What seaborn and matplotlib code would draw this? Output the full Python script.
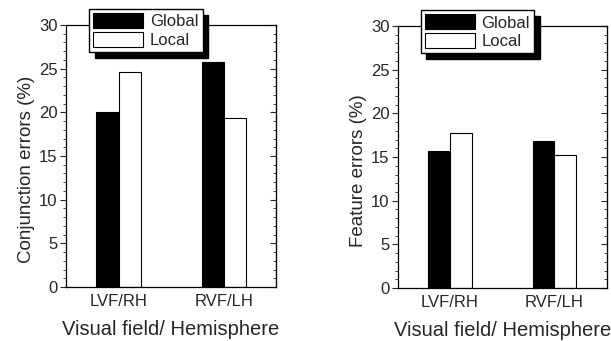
import pandas as pd
import matplotlib.pyplot as plt
import seaborn as sns
from matplotlib.ticker import MultipleLocator

# data
fields = ['LVF/RH', 'RVF/LH']
groups = ['Global', 'Local']
conj_global = [20.0, 25.8]
conj_local = [24.6, 19.4]
feat_global = [15.7, 16.8]
feat_local = [17.8, 15.2]

sns.set_style('white')
plt.rcParams['font.family'] = ['Liberation Sans', 'DejaVu Sans']


def make_df(glob, loc):
    return pd.DataFrame({
        'field': fields * 2,
        'group': ['Global'] * 2 + ['Local'] * 2,
        'value': glob + loc,
    })


fig = plt.figure(figsize=(6.11, 3.41), dpi=100)
ax1 = fig.add_axes([0.108, 0.158, 0.344, 0.769])
ax2 = fig.add_axes([0.651, 0.155, 0.342, 0.769])

panels = [
    (ax1, make_df(conj_global, conj_local), 'Conjunction errors (%)'),
    (ax2, make_df(feat_global, feat_local), 'Feature errors (%)'),
]

for ax, df, ylab in panels:
    sns.barplot(data=df, x='field', y='value', hue='group', hue_order=groups,
                palette={'Global': 'black', 'Local': 'white'},
                edgecolor='black', linewidth=0.8, width=0.42, gap=0,
                ax=ax)
    ax.set_xlim(-0.5, 1.5)
    ax.set_ylim(0, 30)
    ax.yaxis.set_major_locator(MultipleLocator(5))
    ax.yaxis.set_minor_locator(MultipleLocator(1))
    ax.tick_params(axis='y', which='major', direction='out', length=4,
                   width=0.8, labelsize=12, pad=2, left=True)
    ax.tick_params(axis='y', which='minor', direction='out', length=2,
                   width=0.6, left=True)
    ax.tick_params(axis='x', length=0, labelsize=12, pad=5)
    for s in ax.spines.values():
        s.set_visible(True)
        s.set_color('black')
        s.set_linewidth(0.9)

    sec = ax.secondary_yaxis('right')
    sec.yaxis.set_major_locator(MultipleLocator(5))
    sec.yaxis.set_minor_locator(MultipleLocator(1))
    sec.tick_params(which='major', direction='in', length=4, width=0.8,
                    labelright=False)
    sec.tick_params(which='minor', direction='in', length=2, width=0.6)

    ax.set_ylabel(ylab, fontsize=13.5, labelpad=3)
    ax.yaxis.label.set_y(0.45)
    ax.set_xlabel('Visual field/ Hemisphere', fontsize=14.5, labelpad=8)

    handles, labels = ax.get_legend_handles_labels()
    ax.legend(handles, labels, loc='upper left',
              bbox_to_anchor=(0.11, 1.06), frameon=True, fancybox=False,
              shadow={'color': 'black', 'alpha': 1, 'ox': 4, 'oy': -4},
              edgecolor='black', framealpha=1, fontsize=12,
              handlelength=3.0, handleheight=1.0, handletextpad=0.4,
              borderpad=0.25, labelspacing=0.15, borderaxespad=0)

fig.savefig('out.png', dpi=100)
